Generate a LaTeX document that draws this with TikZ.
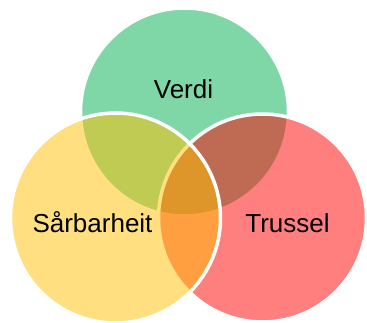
\documentclass[tikz,border=0pt]{standalone}
\usepackage{fontspec}
\setmainfont{Liberation Sans}
\definecolor{gronn}{RGB}{0,176,80}
\definecolor{gul}{RGB}{255,192,0}
\definecolor{raud}{RGB}{255,0,0}
\begin{document}
\begin{tikzpicture}[x=1pt, y=-1pt,
      every node/.style={font=\fontsize{26}{30}\selectfont, align=center},
      sirkel/.style={circle, draw=white, line width=3.5pt, fill opacity=0.5, inner sep=0pt, minimum size=208pt},
      etikett/.style={anchor=base, inner sep=0pt}
    ]
    \useasboundingbox (0,0) rectangle (367,323);
    \node[sirkel, fill=gronn] (verdi)  at (184.5,112) {};
    \node[sirkel, fill=raud]  (trussel) at (262.5,218) {};
    \node[sirkel, fill=gul, minimum size=210pt]   (saarb)   at (115.5,218) {};
    \node[etikett] (tverdi)   at (183.5,99)  {Verdi};
    \node[etikett] (tsaarb)   at (92.5,233)  {Sårbarheit};
    \node[etikett] (ttrussel) at (287.5,233) {Trussel};
  \end{tikzpicture}
\end{document}
